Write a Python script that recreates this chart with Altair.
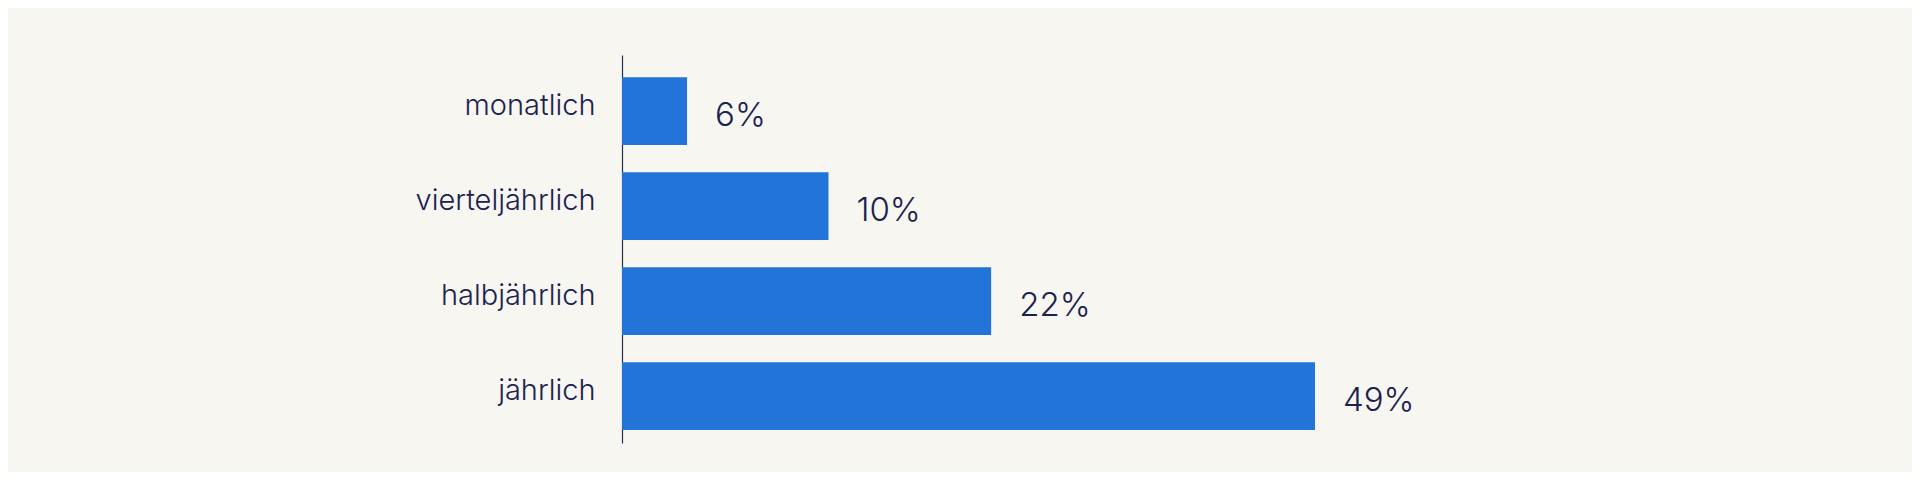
import altair as alt
import pandas as pd

categories = ["monatlich", "vierteljährlich", "halbjährlich", "jährlich"]
# bar lengths as drawn in the picture (percent units)
bar_lengths = [4.6, 14.6, 26.1, 49.0]
value_labels = ["6%", "10%", "22%", "49%"]

df = pd.DataFrame({"cat": categories, "len": bar_lengths, "label": value_labels})

FONT = "Inter"
TEXT_COLOR = "#1b2250"
BAR_COLOR = "#2374d9"
BG = "#f7f6f1"

y_enc = alt.Y(
    "cat:N",
    sort=categories,
    scale=alt.Scale(paddingInner=0.287, paddingOuter=0.186, align=0.63),
    axis=alt.Axis(
        title=None,
        ticks=False,
        labelFont=FONT,
        labelFontSize=29,
        labelFontWeight=300,
        labelColor=TEXT_COLOR,
        labelPadding=27,
        labelOffset=-5,
        domainColor="#2a2f4a",
        domainWidth=1.2,
        labelLimit=400,
    ),
)
x_enc = alt.X("len:Q", scale=alt.Scale(domain=[0, 49], nice=False, zero=True), axis=None)

bars = alt.Chart(df).mark_bar(color=BAR_COLOR, cornerRadius=0).encode(x=x_enc, y=y_enc)
texts = alt.Chart(df).mark_text(
    align="left", baseline="middle", dx=28, dy=5, font=FONT, fontSize=33,
    fontWeight=300, color=TEXT_COLOR
).encode(x=x_enc, y=y_enc, text="label:N")

chart = (
    alt.layer(bars, texts)
    .properties(
        width=693,
        height=388,
        background=BG,
        padding={"left": 614, "top": 47, "right": 597, "bottom": 29},
        autosize=alt.AutoSizeParams(type="none"),
    )
    .configure_view(stroke=None)
)

chart.save("out.html", embed_options={"renderer": "svg", "actions": False})
